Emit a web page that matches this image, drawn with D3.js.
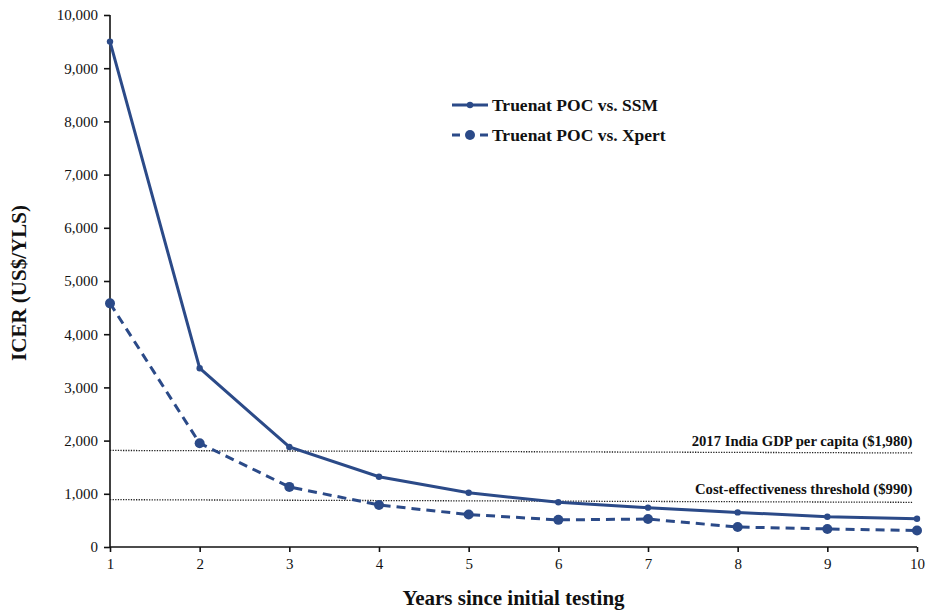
<!DOCTYPE html>
<html>
<head>
<meta charset="utf-8">
<script src="https://cdn.jsdelivr.net/npm/d3@7"></script>
<style>
  body { margin: 0; background: #fff; }
  text { font-family: "Liberation Serif", "Times New Roman", serif; fill: #111; }
  .tick-label { font-size: 15px; }
  .axis-title { font-size: 21px; font-weight: bold; }
  .legend-text { font-size: 17.5px; font-weight: bold; }
  .ref-label { font-size: 14.7px; font-weight: bold; }
</style>
</head>
<body>
<div id="graph"></div>
<script>
// Data
const years = [1, 2, 3, 4, 5, 6, 7, 8, 9, 10]
const ssmValues = [9500, 3360, 1880, 1320, 1020, 840, 740, 650, 570, 530]
const xpertValues = [4580, 1950, 1130, 790, 610, 510, 525, 375, 340, 310]
const seriesNames = ["Truenat POC vs. SSM", "Truenat POC vs. Xpert"]
const yTicks = [0, 1000, 2000, 3000, 4000, 5000, 6000, 7000, 8000, 9000, 10000]
// reference lines: [x, value] at both ends (drawn slightly sloped in the original)
const gdpLine = [[1, 1815], [9.95, 1768]]
const ceLine = [[1, 890], [9.95, 840]]
const refLabels = ["2017 India GDP per capita ($1,980)", "Cost-effectiveness threshold ($990)"]

const width = 928
const height = 612
const margin = { left: 110, right: 11, top: 15, bottom: 65 }
const blue = "#2b4a88"

const svg = d3.select("#graph")
  .append("svg")
  .attr("width", width)
  .attr("height", height)

const xScale = d3.scaleLinear()
  .domain([1, 10])
  .range([margin.left, width - margin.right])

const yScale = d3.scaleLinear()
  .domain([0, 10000])
  .range([height - margin.bottom, margin.top])

// reference dotted lines
const refLine = d3.line().x(d => xScale(d[0])).y(d => yScale(d[1]))
;[gdpLine, ceLine].forEach(l => {
  svg.append("path")
    .attr("d", refLine(l))
    .attr("fill", "none")
    .attr("stroke", "#222")
    .attr("stroke-width", 1.3)
    .attr("stroke-dasharray", "1.3,1.3")
})

// reference labels, right aligned above the lines
svg.append("text")
  .attr("class", "ref-label")
  .attr("text-anchor", "end")
  .attr("x", xScale(9.95))
  .attr("y", yScale(gdpLine[1][1]) - 7)
  .text(refLabels[0])

svg.append("text")
  .attr("class", "ref-label")
  .attr("text-anchor", "end")
  .attr("x", xScale(9.95))
  .attr("y", yScale(ceLine[1][1]) - 8)
  .text(refLabels[1])

// axes
const xAxis = d3.axisBottom(xScale).tickValues(years).tickSize(5).tickFormat(d3.format("d"))
const yAxis = d3.axisLeft(yScale).tickValues(yTicks).tickSize(6).tickFormat(d3.format(","))

const gx = svg.append("g")
  .attr("transform", `translate(0,${height - margin.bottom})`)
  .call(xAxis)
const gy = svg.append("g")
  .attr("transform", `translate(${margin.left},0)`)
  .call(yAxis)

;[gx, gy].forEach(g => {
  g.select(".domain").attr("stroke", "#111").attr("stroke-width", 1.6)
  g.selectAll(".tick line").attr("stroke", "#111").attr("stroke-width", 1.6)
  g.selectAll(".tick text")
    .attr("class", "tick-label")
    .attr("font-size", null)
    .attr("font-family", null)
})
gx.select(".domain").attr("d", `M${margin.left},0H${width - margin.right}`)
gy.select(".domain").attr("d", `M0,${height - margin.bottom}V${margin.top}`)
gx.selectAll(".tick text").attr("dy", "0.95em")
gy.selectAll(".tick text").attr("x", -12)

// series lines
const line = d3.line()
  .x((d, i) => xScale(years[i]))
  .y(d => yScale(d))

svg.append("path")
  .attr("d", line(ssmValues))
  .attr("fill", "none")
  .attr("stroke", blue)
  .attr("stroke-width", 3)

svg.append("path")
  .attr("d", line(xpertValues))
  .attr("fill", "none")
  .attr("stroke", blue)
  .attr("stroke-width", 3)
  .attr("stroke-dasharray", "9,6")

svg.append("g").selectAll("circle")
  .data(ssmValues)
  .enter()
  .append("circle")
  .attr("cx", (d, i) => xScale(years[i]))
  .attr("cy", d => yScale(d))
  .attr("r", 3.2)
  .attr("fill", blue)

svg.append("g").selectAll("circle")
  .data(xpertValues)
  .enter()
  .append("circle")
  .attr("cx", (d, i) => xScale(years[i]))
  .attr("cy", d => yScale(d))
  .attr("r", 5)
  .attr("fill", blue)

// legend
const legend = svg.append("g").attr("transform", "translate(452,105)")
seriesNames.forEach((name, i) => {
  const row = legend.append("g").attr("transform", `translate(0,${i * 30})`)
  row.append("line")
    .attr("x1", 0).attr("x2", 36)
    .attr("stroke", blue)
    .attr("stroke-width", 3)
    .attr("stroke-dasharray", i == 0 ? null : "8,6")
  row.append("circle")
    .attr("cx", 18)
    .attr("r", i == 0 ? 3.2 : 5)
    .attr("fill", blue)
  row.append("text")
    .attr("class", "legend-text")
    .attr("x", 40)
    .attr("dy", "0.35em")
    .text(name)
})

// axis titles
svg.append("text")
  .attr("class", "axis-title")
  .attr("text-anchor", "middle")
  .attr("x", (margin.left + width - margin.right) / 2)
  .attr("y", 605)
  .text("Years since initial testing")

svg.append("text")
  .attr("class", "axis-title")
  .attr("text-anchor", "middle")
  .attr("transform", "translate(26,283) rotate(-90)")
  .text("ICER (US$/YLS)")
</script>
</body>
</html>
